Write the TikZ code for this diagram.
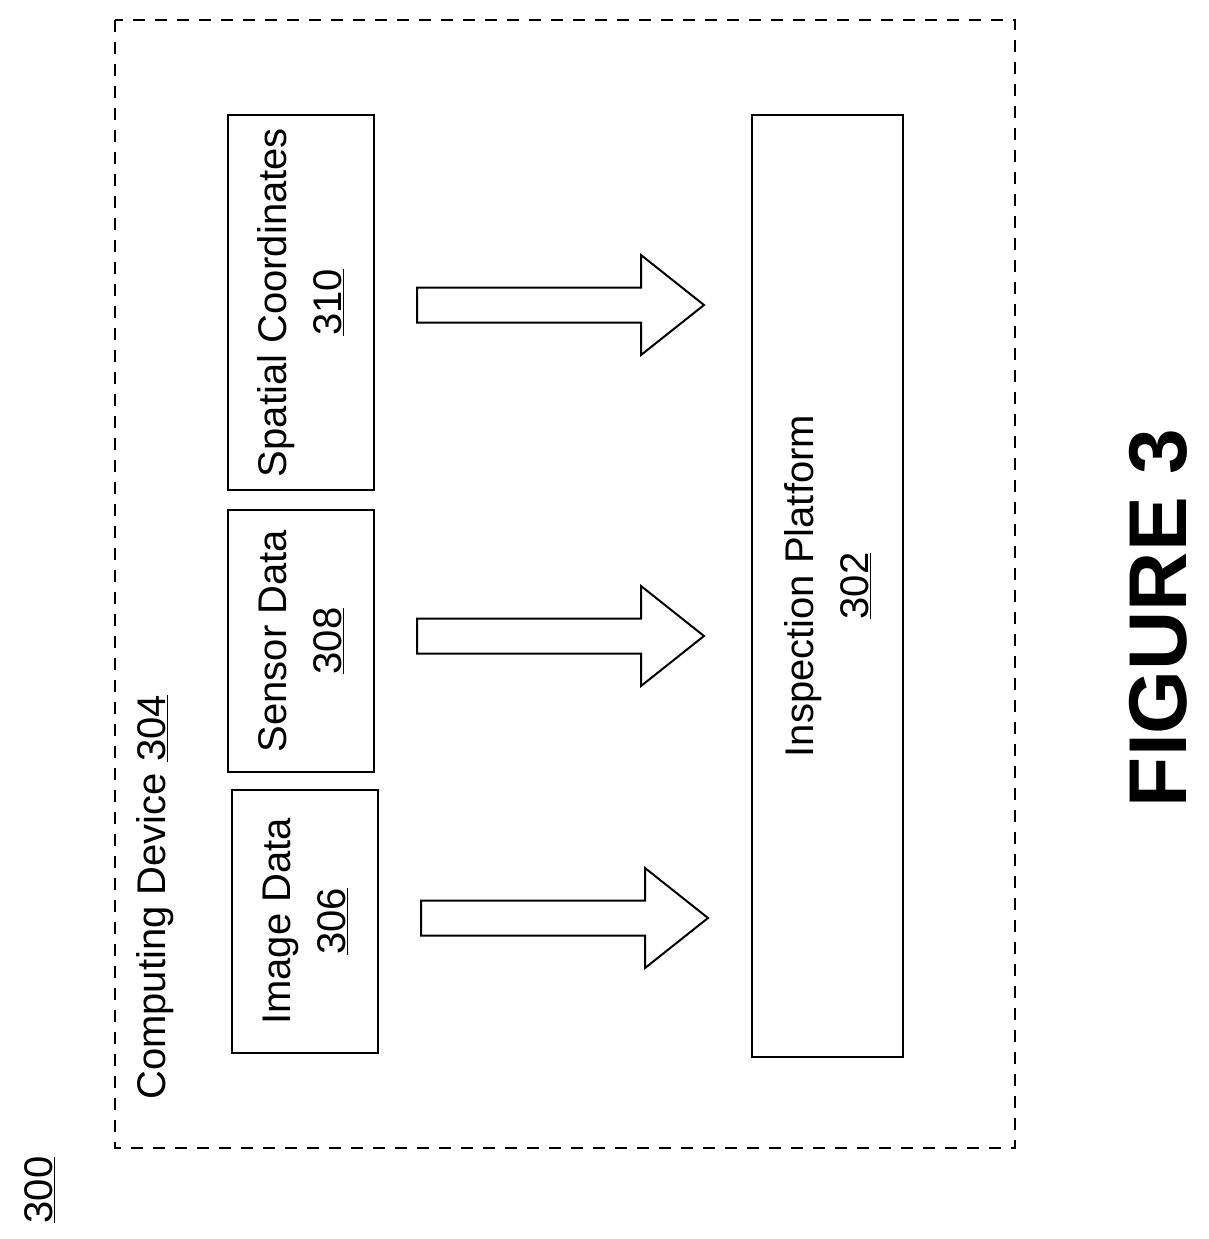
\documentclass[tikz,border=0pt]{standalone}
\usepackage{fontspec}
\setmainfont{Liberation Sans}
\begin{document}
\begin{tikzpicture}[x=1pt,y=-1pt,
  every node/.style={inner sep=0pt,font=\fontsize{40}{55}\selectfont},
  blk/.style={draw=black,line width=2pt,rotate=90,align=center},
  bigarrow/.style={draw=black,line width=2pt,fill=white}]
\useasboundingbox (0,0) rectangle (1209,1239);
\draw[line width=2pt,dash pattern=on 12pt off 10pt] (115,20) rectangle (1015,1148);
\node[rotate=90,anchor=west] (dev) at (155,1100) {Computing Device \underline{304}};
\node[blk,minimum width=263,minimum height=146] (img) at (305,921.5) {Image Data\\\underline{306}};
\node[blk,minimum width=262,minimum height=146] (sen) at (301,641) {Sensor Data\\\underline{308}};
\node[blk,minimum width=375,minimum height=146] (spa) at (301,302.5) {Spatial Coordinates\\\underline{310}};
\node[blk,minimum width=942,minimum height=151] (insp) at (827.5,586) {Inspection Platform\\\underline{302}};
% block arrows
\foreach \x/\y in {421/918, 417/636, 417/305}
  \draw[bigarrow] (\x,\y-17.5) -- (\x+224,\y-17.5) -- (\x+224,\y-50) -- (\x+287,\y)
    -- (\x+224,\y+50) -- (\x+224,\y+17.5) -- (\x,\y+17.5) -- cycle;
\node[rotate=90] (num) at (40,1190) {\underline{300}};
\node[rotate=90,font=\fontsize{82}{82}\selectfont\bfseries] (fig) at (1158,618) {FIGURE 3};
\end{tikzpicture}
\end{document}
